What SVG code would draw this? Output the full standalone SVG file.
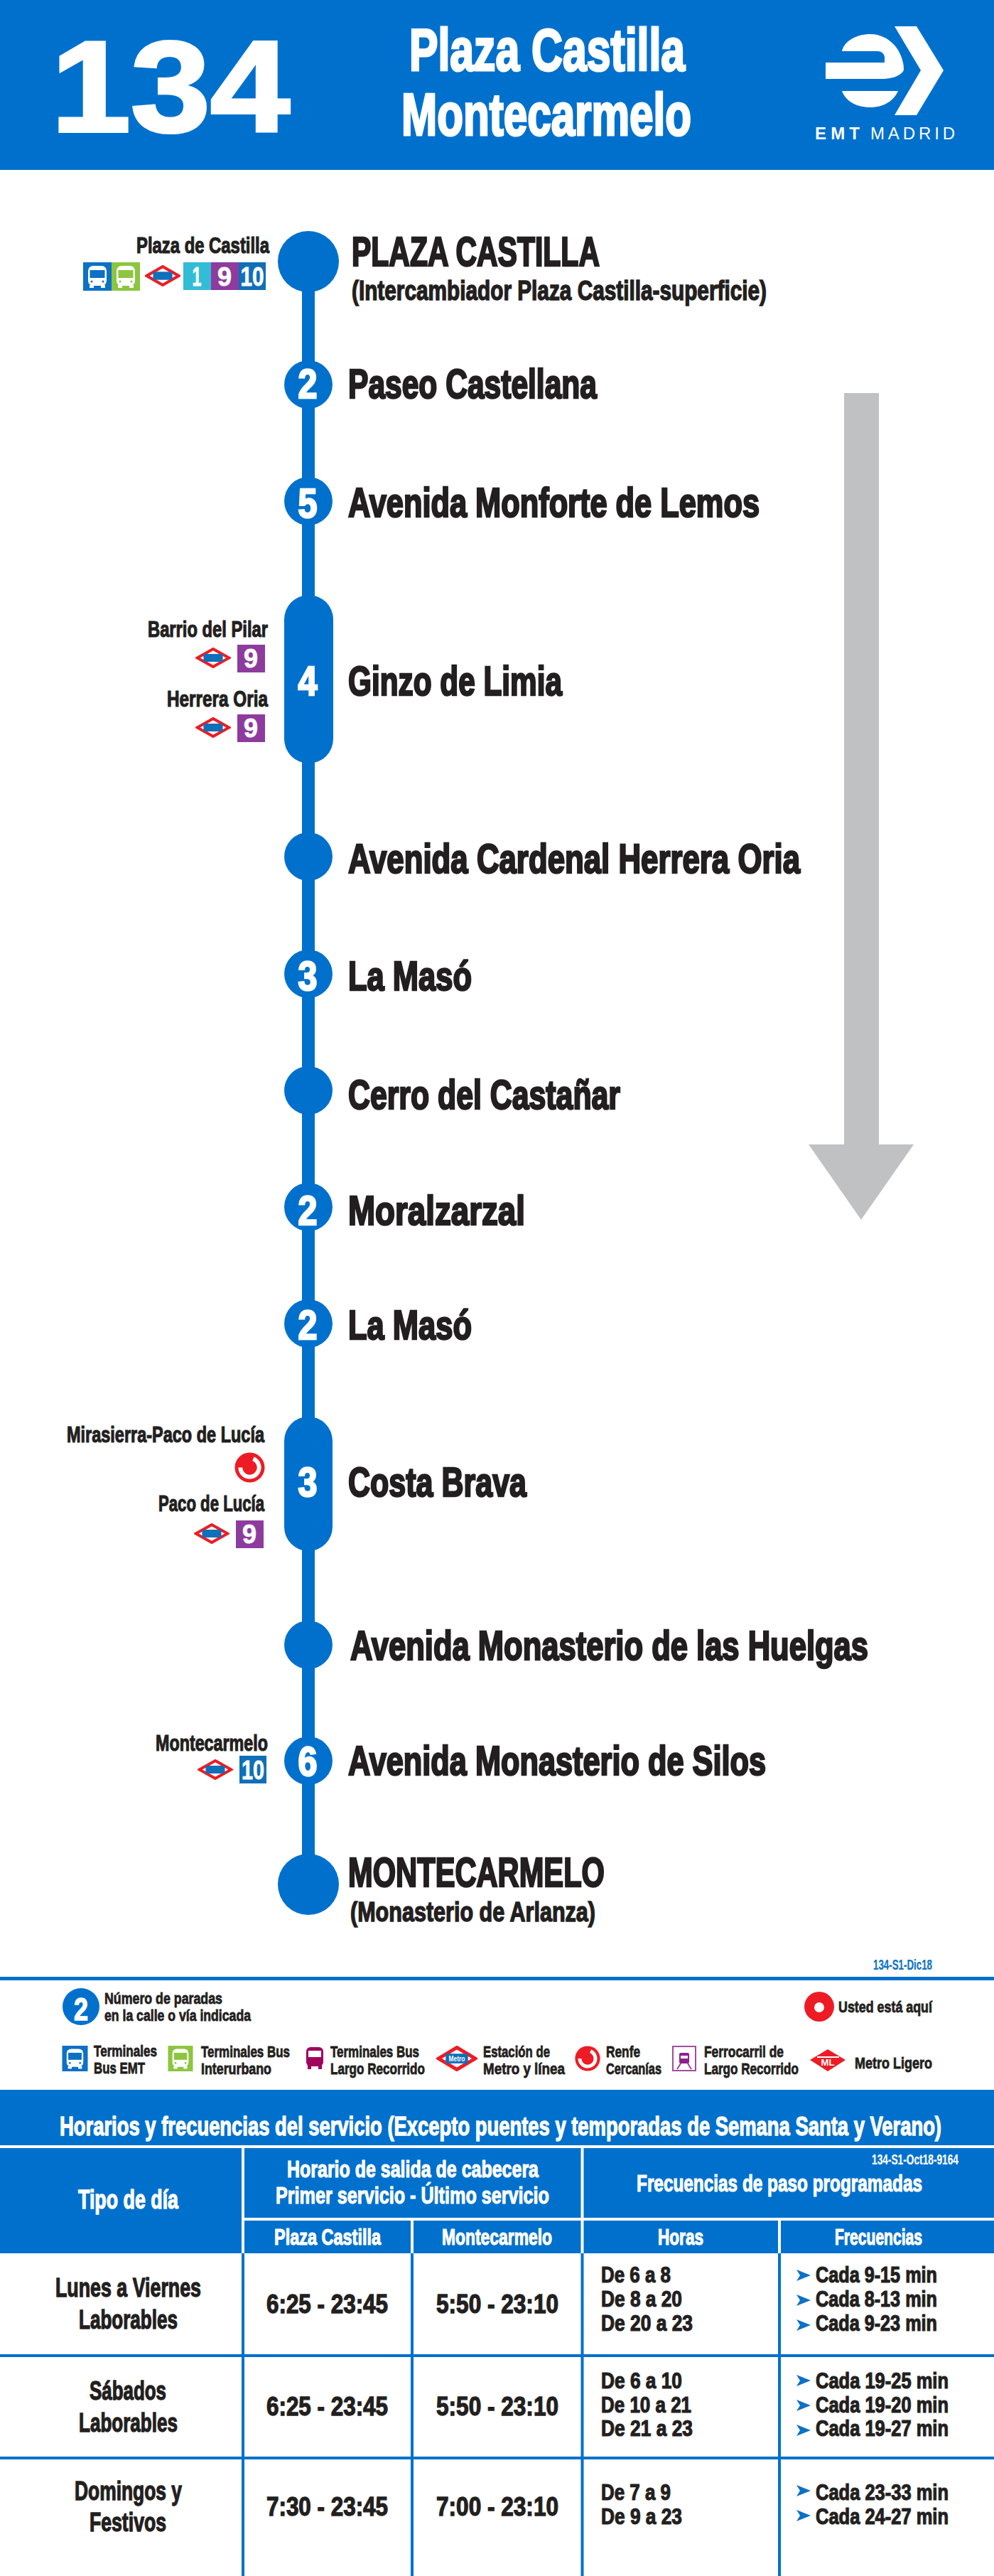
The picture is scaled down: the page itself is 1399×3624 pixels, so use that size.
<svg xmlns="http://www.w3.org/2000/svg" width="1399" height="3624" viewBox="0 0 1399 3624">
<style>
text{font-family:"Liberation Sans",Arial,sans-serif;font-weight:700;fill:#231F20;stroke:#231F20}
text.w{fill:#fff;stroke:#fff}
text.c{text-anchor:middle}
.s183{font-size:181px;stroke-width:4px}
.s84{font-size:84px;stroke-width:3.2px}
.s58{font-size:58px;stroke-width:2.6px}
.s39{font-size:39px;stroke-width:1.5px}
.s36{font-size:36px;stroke-width:1.3px}
.s33{font-size:32px;stroke-width:1.2px}
.s31{font-size:31px;stroke-width:1.2px}
.s23{font-size:22.5px;stroke-width:.8px}
.s21{font-size:21px;stroke-width:.2px}
.d{font-size:36px;stroke-width:.8px}
.b{fill:#0070CD}
.hw{fill:#fff}
</style>
<defs>
<symbol id="metro" viewBox="0 0 48 29" preserveAspectRatio="none"><polygon points="24,2 45.5,14.5 24,27 2.5,14.5" fill="#fff" stroke="#ED1C24" stroke-width="4"/><rect x="11" y="9" width="26" height="11" fill="#0F6FB8"/></symbol>
<symbol id="bus" viewBox="0 0 40 40" preserveAspectRatio="none"><rect x="7" y="5" width="26" height="28" rx="7" fill="#fff"/><rect x="9.5" y="11" width="21" height="11" fill="currentColor"/><rect x="9" y="32" width="6" height="4" fill="#fff"/><rect x="25" y="32" width="6" height="4" fill="#fff"/><circle cx="12" cy="27" r="1.5" fill="currentColor"/><circle cx="28" cy="27" r="1.5" fill="currentColor"/></symbol>
<symbol id="renfe" viewBox="-22 -22 44 44" preserveAspectRatio="none"><circle r="21.5" fill="#ED1C24"/><path d="M5 -12.5A13.5 13.5 0 1 1 -13.5 0" fill="none" stroke="#fff" stroke-width="6"/></symbol>
<polygon id="fa" points="0,0 20,8 0,16 5,8" fill="#0D71C5"/>
</defs>
<rect width="1399" height="3624" fill="#fff"/>

<g id="header">
<rect width="1399" height="239" class="b"/>
<text class="s183 w" x="72" y="185" textLength="336" lengthAdjust="spacingAndGlyphs">134</text>
<text class="s84 w" x="576" y="99" textLength="388" lengthAdjust="spacingAndGlyphs">Plaza Castilla</text>
<text class="s84 w" x="565" y="190" textLength="408" lengthAdjust="spacingAndGlyphs">Montecarmelo</text>
<g id="logo">
<path class="hw" d="M1259 37H1290L1328 99L1290 162H1259L1296 99Z"/>
<path class="hw" d="M1185 72C1188 58 1205 48 1225 48C1252 48 1272 72 1272 98C1272 100 1266 111 1240 111H1162V88H1245V80Q1243 72 1235 72Z"/>
<path class="hw" d="M1185 128H1264C1258 142 1243 151 1225 151C1205 151 1190 142 1185 128Z"/>
<text class="w" x="1147" y="196" font-size="24" stroke-width="0" textLength="63">EMT</text>
<text class="w" x="1225" y="196" font-size="24" style="font-weight:400" stroke-width="0" textLength="119">MADRID</text>
</g>
</g>

<polygon id="direction-arrow" points="1188,553 1237,553 1237,1610 1286,1610 1212,1716 1138,1610 1188,1610" fill="#C0C1C3"/>

<g id="connectors">
<line x1="434" y1="368" x2="434" y2="2651" stroke="#0070CD" stroke-width="18"/>
</g>

<g id="n-plaza-castilla">
<circle class="b" cx="434" cy="368" r="43"/>
<text class="s58" x="495" y="374" textLength="349" lengthAdjust="spacingAndGlyphs">PLAZA CASTILLA</text>
<text class="s39" x="495" y="422" textLength="584" lengthAdjust="spacingAndGlyphs">(Intercambiador Plaza Castilla-superficie)</text>
</g>
<g id="n-paseo-castellana">
<circle class="b" cx="434" cy="541" r="34"/>
<text class="s58 w c" x="433" y="560" textLength="27" lengthAdjust="spacingAndGlyphs">2</text>
<text class="s58" x="490" y="560" textLength="350" lengthAdjust="spacingAndGlyphs">Paseo Castellana</text>
</g>
<g id="n-monforte">
<circle class="b" cx="434" cy="705" r="34"/>
<text class="s58 w c" x="433" y="728" textLength="27" lengthAdjust="spacingAndGlyphs">5</text>
<text class="s58" x="490" y="727" textLength="579" lengthAdjust="spacingAndGlyphs">Avenida Monforte de Lemos</text>
</g>
<g id="n-ginzo">
<rect class="b" x="400" y="837" width="69" height="237" rx="34.5"/>
<text class="s58 w c" x="433" y="978" textLength="27" lengthAdjust="spacingAndGlyphs">4</text>
<text class="s58" x="490" y="978" textLength="301" lengthAdjust="spacingAndGlyphs">Ginzo de Limia</text>
</g>
<g id="n-cardenal">
<circle class="b" cx="434" cy="1205" r="34"/>
<text class="s58" x="490" y="1228" textLength="636" lengthAdjust="spacingAndGlyphs">Avenida Cardenal Herrera Oria</text>
</g>
<g id="n-maso-3">
<circle class="b" cx="434" cy="1370" r="34"/>
<text class="s58 w c" x="433" y="1393" textLength="27" lengthAdjust="spacingAndGlyphs">3</text>
<text class="s58" x="490" y="1393" textLength="174" lengthAdjust="spacingAndGlyphs">La Masó</text>
</g>
<g id="n-cerro">
<circle class="b" cx="434" cy="1534" r="34"/>
<text class="s58" x="490" y="1560" textLength="383" lengthAdjust="spacingAndGlyphs">Cerro del Castañar</text>
</g>
<g id="n-moralzarzal">
<circle class="b" cx="434" cy="1698" r="34"/>
<text class="s58 w c" x="433" y="1723" textLength="27" lengthAdjust="spacingAndGlyphs">2</text>
<text class="s58" x="490" y="1723" textLength="249" lengthAdjust="spacingAndGlyphs">Moralzarzal</text>
</g>
<g id="n-maso-2">
<circle class="b" cx="434" cy="1862" r="34"/>
<text class="s58 w c" x="433" y="1884" textLength="27" lengthAdjust="spacingAndGlyphs">2</text>
<text class="s58" x="490" y="1884" textLength="174" lengthAdjust="spacingAndGlyphs">La Masó</text>
</g>
<g id="n-costa-brava">
<rect class="b" x="400" y="1993" width="68" height="189" rx="34"/>
<text class="s58 w c" x="433" y="2105" textLength="27" lengthAdjust="spacingAndGlyphs">3</text>
<text class="s58" x="490" y="2105" textLength="251" lengthAdjust="spacingAndGlyphs">Costa Brava</text>
</g>
<g id="n-huelgas">
<circle class="b" cx="434" cy="2314" r="34"/>
<text class="s58" x="493" y="2335" textLength="729" lengthAdjust="spacingAndGlyphs">Avenida Monasterio de las Huelgas</text>
</g>
<g id="n-silos">
<circle class="b" cx="434" cy="2477" r="34"/>
<text class="s58 w c" x="433" y="2498" textLength="27" lengthAdjust="spacingAndGlyphs">6</text>
<text class="s58" x="490" y="2497" textLength="588" lengthAdjust="spacingAndGlyphs">Avenida Monasterio de Silos</text>
</g>
<g id="n-montecarmelo">
<circle class="b" cx="434" cy="2651" r="43"/>
<text class="s58" x="490" y="2654" textLength="361" lengthAdjust="spacingAndGlyphs">MONTECARMELO</text>
<text class="s39" x="493" y="2703" textLength="345" lengthAdjust="spacingAndGlyphs">(Monasterio de Arlanza)</text>
</g>

<g id="transfer-plaza-castilla">
<text class="s33" x="192" y="356" textLength="187" lengthAdjust="spacingAndGlyphs">Plaza de Castilla</text>
<rect x="117" y="369" width="40" height="40" fill="#0D71C5"/><use href="#bus" x="117" y="369" width="40" height="40" style="color:#0D71C5"/>
<rect x="157" y="369" width="40" height="40" fill="#8CC63F"/><use href="#bus" x="157" y="369" width="40" height="40" style="color:#8CC63F"/>
<use href="#metro" x="204" y="373" width="50" height="30"/>
<rect x="258" y="369" width="39" height="39" fill="#33BCD6"/><rect x="297" y="369" width="39" height="39" fill="#8E3B9E"/><rect x="336" y="369" width="38" height="39" fill="#0F6FB8"/>
<text class="d w c" x="277" y="402" textLength="13" lengthAdjust="spacingAndGlyphs">1</text>
<text class="d w c" x="316" y="402">9</text>
<text class="d w c" x="355" y="402" textLength="33" lengthAdjust="spacingAndGlyphs">10</text>
</g>
<g id="transfer-barrio-pilar">
<text class="s33" x="208" y="896" textLength="169" lengthAdjust="spacingAndGlyphs">Barrio del Pilar</text>
<use href="#metro" x="275" y="911" width="50" height="29"/>
<rect x="334" y="907" width="39" height="39" fill="#8E3B9E"/>
<text class="d w c" x="353" y="939">9</text>
</g>
<g id="transfer-herrera-oria">
<text class="s33" x="235" y="994" textLength="142" lengthAdjust="spacingAndGlyphs">Herrera Oria</text>
<use href="#metro" x="275" y="1009" width="50" height="29"/>
<rect x="334" y="1005" width="39" height="39" fill="#8E3B9E"/>
<text class="d w c" x="353" y="1037">9</text>
</g>
<g id="transfer-mirasierra">
<text class="s33" x="94" y="2029" textLength="278" lengthAdjust="spacingAndGlyphs">Mirasierra-Paco de Lucía</text>
<use href="#renfe" x="330" y="2043" width="43" height="43"/>
</g>
<g id="transfer-paco-lucia">
<text class="s33" x="223" y="2126" textLength="149" lengthAdjust="spacingAndGlyphs">Paco de Lucía</text>
<use href="#metro" x="273" y="2143" width="50" height="29"/>
<rect x="332" y="2139" width="39" height="39" fill="#8E3B9E"/>
<text class="d w c" x="351" y="2171">9</text>
</g>
<g id="transfer-montecarmelo">
<text class="s33" x="219" y="2463" textLength="158" lengthAdjust="spacingAndGlyphs">Montecarmelo</text>
<use href="#metro" x="278" y="2475" width="50" height="29"/>
<rect x="337" y="2470" width="38" height="39" fill="#0F6FB8"/>
<text class="d w c" x="356" y="2503" textLength="32" lengthAdjust="spacingAndGlyphs">10</text>
</g>

<g id="legend">
<text x="1229" y="2771" class="s21" style="fill:#0D71C5;stroke:#0D71C5" textLength="83" lengthAdjust="spacingAndGlyphs">134-S1-Dic18</text>
<rect y="2781" width="1399" height="5" class="b"/>
<circle class="b" cx="114" cy="2823" r="26"/>
<text class="w c s39" x="114" y="2842" textLength="20" lengthAdjust="spacingAndGlyphs" style="font-size:44px">2</text>
<text class="s23" x="147" y="2819" textLength="166" lengthAdjust="spacingAndGlyphs">Número de paradas</text>
<text class="s23" x="147" y="2843" textLength="206" lengthAdjust="spacingAndGlyphs">en la calle o vía indicada</text>
<circle cx="1153" cy="2823" r="21" fill="#ED1C24"/><circle cx="1153" cy="2824" r="7" fill="#fff"/>
<text class="s23" x="1180" y="2831" textLength="132" lengthAdjust="spacingAndGlyphs">Usted está aquí</text>

<rect x="87.5" y="2878" width="36" height="36" fill="#0D71C5"/><use href="#bus" x="87.5" y="2878" width="36" height="36" style="color:#0D71C5"/>
<text class="s23" x="132" y="2893" textLength="89" lengthAdjust="spacingAndGlyphs">Terminales</text>
<text class="s23" x="132" y="2917" textLength="72" lengthAdjust="spacingAndGlyphs">Bus EMT</text>
<rect x="236.5" y="2878" width="35" height="36" fill="#8CC63F"/><use href="#bus" x="236.5" y="2878" width="35" height="36" style="color:#8CC63F"/>
<text class="s23" x="283" y="2894" textLength="125" lengthAdjust="spacingAndGlyphs">Terminales Bus</text>
<text class="s23" x="283" y="2918" textLength="99" lengthAdjust="spacingAndGlyphs">Interurbano</text>
<g id="bus-lr"><rect x="431" y="2880" width="24" height="27" rx="6" fill="#A0005E"/><rect x="434" y="2885" width="18" height="9" fill="#fff"/><rect x="433" y="2905" width="5" height="6" fill="#A0005E"/><rect x="448" y="2905" width="5" height="6" fill="#A0005E"/></g>
<text class="s23" x="465" y="2894" textLength="125" lengthAdjust="spacingAndGlyphs">Terminales Bus</text>
<text class="s23" x="465" y="2918" textLength="133" lengthAdjust="spacingAndGlyphs">Largo Recorrido</text>
<use href="#metro" x="614" y="2878" width="58" height="36"/>
<text class="w c" x="643" y="2900" font-size="11" stroke-width="0" textLength="23" lengthAdjust="spacingAndGlyphs">Metro</text>
<text class="s23" x="680" y="2894" textLength="94" lengthAdjust="spacingAndGlyphs">Estación de</text>
<text class="s23" x="680" y="2918" textLength="115" lengthAdjust="spacingAndGlyphs">Metro y línea</text>
<use href="#renfe" x="809" y="2878" width="36" height="36"/>
<text class="s23" x="853" y="2894" textLength="48" lengthAdjust="spacingAndGlyphs">Renfe</text>
<text class="s23" x="853" y="2918" textLength="78" lengthAdjust="spacingAndGlyphs">Cercanías</text>
<g id="train"><rect x="947" y="2879" width="32" height="34" fill="#fff" stroke="#9E4E9E" stroke-width="2"/><rect x="956" y="2888" width="14" height="15" rx="2" fill="#8E1F8E"/><rect x="958" y="2892" width="10" height="4" fill="#fff"/><path d="M958 2903L953 2911M968 2903L973 2911" stroke="#8E1F8E" stroke-width="1.5"/></g>
<text class="s23" x="991" y="2894" textLength="112" lengthAdjust="spacingAndGlyphs">Ferrocarril de</text>
<text class="s23" x="991" y="2918" textLength="133" lengthAdjust="spacingAndGlyphs">Largo Recorrido</text>
<g id="ml"><polygon points="1165,2883 1190,2898 1165,2914 1140,2898" fill="#ED1C24"/><path d="M1150 2894H1181" stroke="#fff" stroke-width="2"/><text class="w c" x="1165" y="2906" font-size="13" stroke-width="0" textLength="19" lengthAdjust="spacingAndGlyphs">ML</text></g>
<text class="s23" x="1203" y="2910" textLength="109" lengthAdjust="spacingAndGlyphs">Metro Ligero</text>
</g>

<g id="timetable">
<rect y="2940" width="1399" height="230" class="b"/>
<rect y="3018" width="1399" height="4" fill="#fff"/>
<rect x="344" y="3120" width="1055" height="4" fill="#fff"/>
<rect x="340" y="3022" width="4" height="148" fill="#fff"/>
<rect x="578" y="3124" width="4" height="46" fill="#fff"/>
<rect x="817.5" y="3022" width="4" height="148" fill="#fff"/>
<rect x="1095" y="3124" width="4" height="46" fill="#fff"/>
<rect x="340" y="3170" width="4" height="454" class="b"/>
<rect x="578" y="3170" width="4" height="454" class="b"/>
<rect x="817.5" y="3170" width="4" height="454" class="b"/>
<rect x="1095" y="3170" width="4" height="454" class="b"/>
<rect y="3312" width="1399" height="4" class="b"/>
<rect y="3456" width="1399" height="4" class="b"/>

<text class="s36 w" x="84" y="3004" textLength="1241" lengthAdjust="spacingAndGlyphs">Horarios y frecuencias del servicio (Excepto puentes y temporadas de Semana Santa y Verano)</text>
<text class="s36 w" x="110" y="3107" textLength="141" lengthAdjust="spacingAndGlyphs">Tipo de día</text>
<text class="s33 w" x="404" y="3063" textLength="354" lengthAdjust="spacingAndGlyphs" style="font-size:34px">Horario de salida de cabecera</text>
<text class="s33 w" x="388" y="3100" textLength="385" lengthAdjust="spacingAndGlyphs" style="font-size:34px">Primer servicio - Último servicio</text>
<text class="s31 w" x="386" y="3158" textLength="150" lengthAdjust="spacingAndGlyphs">Plaza Castilla</text>
<text class="s31 w" x="622" y="3158" textLength="155" lengthAdjust="spacingAndGlyphs">Montecarmelo</text>
<text class="s21 w" x="1227" y="3045" textLength="122" lengthAdjust="spacingAndGlyphs">134-S1-Oct18-9164</text>
<text class="s33 w" x="896" y="3083" textLength="402" lengthAdjust="spacingAndGlyphs" style="font-size:34px">Frecuencias de paso programadas</text>
<text class="s31 w" x="926" y="3158" textLength="64" lengthAdjust="spacingAndGlyphs">Horas</text>
<text class="s31 w" x="1175" y="3158" textLength="123" lengthAdjust="spacingAndGlyphs">Frecuencias</text>

<text class="s36" x="78" y="3231" textLength="205" lengthAdjust="spacingAndGlyphs">Lunes a Viernes</text>
<text class="s36" x="111" y="3276" textLength="139" lengthAdjust="spacingAndGlyphs">Laborables</text>
<text class="s36" x="126" y="3376" textLength="108" lengthAdjust="spacingAndGlyphs">Sábados</text>
<text class="s36" x="111" y="3421" textLength="139" lengthAdjust="spacingAndGlyphs">Laborables</text>
<text class="s36" x="105" y="3517" textLength="151" lengthAdjust="spacingAndGlyphs">Domingos y</text>
<text class="s36" x="126" y="3561" textLength="108" lengthAdjust="spacingAndGlyphs">Festivos</text>

<text class="s36" x="375" y="3254" textLength="171" lengthAdjust="spacingAndGlyphs">6:25 - 23:45</text>
<text class="s36" x="614" y="3254" textLength="172" lengthAdjust="spacingAndGlyphs">5:50 - 23:10</text>
<text class="s36" x="375" y="3398" textLength="171" lengthAdjust="spacingAndGlyphs">6:25 - 23:45</text>
<text class="s36" x="614" y="3398" textLength="172" lengthAdjust="spacingAndGlyphs">5:50 - 23:10</text>
<text class="s36" x="375" y="3539" textLength="171" lengthAdjust="spacingAndGlyphs">7:30 - 23:45</text>
<text class="s36" x="614" y="3539" textLength="172" lengthAdjust="spacingAndGlyphs">7:00 - 23:10</text>

<text class="s31" x="846" y="3211" textLength="98" lengthAdjust="spacingAndGlyphs">De 6 a 8</text>
<text class="s31" x="846" y="3245" textLength="114" lengthAdjust="spacingAndGlyphs">De 8 a 20</text>
<text class="s31" x="846" y="3279" textLength="129" lengthAdjust="spacingAndGlyphs">De 20 a 23</text>
<text class="s31" x="846" y="3360" textLength="114" lengthAdjust="spacingAndGlyphs">De 6 a 10</text>
<text class="s31" x="846" y="3394" textLength="127" lengthAdjust="spacingAndGlyphs">De 10 a 21</text>
<text class="s31" x="846" y="3427" textLength="129" lengthAdjust="spacingAndGlyphs">De 21 a 23</text>
<text class="s31" x="846" y="3517" textLength="98" lengthAdjust="spacingAndGlyphs">De 7 a 9</text>
<text class="s31" x="846" y="3551" textLength="114" lengthAdjust="spacingAndGlyphs">De 9 a 23</text>

<use href="#fa" x="1121" y="3193"/><text class="s31" x="1148" y="3211" textLength="171" lengthAdjust="spacingAndGlyphs">Cada 9-15 min</text>
<use href="#fa" x="1121" y="3228"/><text class="s31" x="1148" y="3245" textLength="171" lengthAdjust="spacingAndGlyphs">Cada 8-13 min</text>
<use href="#fa" x="1121" y="3263"/><text class="s31" x="1148" y="3279" textLength="171" lengthAdjust="spacingAndGlyphs">Cada 9-23 min</text>
<use href="#fa" x="1121" y="3341"/><text class="s31" x="1148" y="3360" textLength="187" lengthAdjust="spacingAndGlyphs">Cada 19-25 min</text>
<use href="#fa" x="1121" y="3376"/><text class="s31" x="1148" y="3394" textLength="187" lengthAdjust="spacingAndGlyphs">Cada 19-20 min</text>
<use href="#fa" x="1121" y="3411"/><text class="s31" x="1148" y="3427" textLength="187" lengthAdjust="spacingAndGlyphs">Cada 19-27 min</text>
<use href="#fa" x="1121" y="3496"/><text class="s31" x="1148" y="3517" textLength="187" lengthAdjust="spacingAndGlyphs">Cada 23-33 min</text>
<use href="#fa" x="1121" y="3531"/><text class="s31" x="1148" y="3551" textLength="187" lengthAdjust="spacingAndGlyphs">Cada 24-27 min</text>
</g>
</svg>
